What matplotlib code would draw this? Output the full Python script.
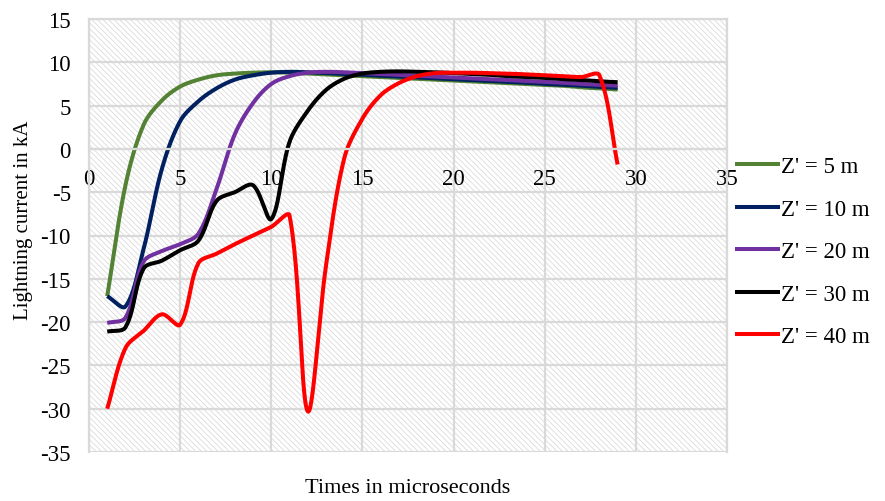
import numpy as np
import matplotlib
matplotlib.use("Agg")
import matplotlib.pyplot as plt
from matplotlib.patches import Rectangle

plt.rcParams['font.family'] = ['Liberation Serif', 'DejaVu Serif']
plt.rcParams['axes.unicode_minus'] = False

# ---- data ----
times = [1, 2, 3, 4, 5, 6, 7, 8, 9, 10, 11, 12, 13, 14, 15, 16, 17, 18, 19, 20,
         21, 22, 23, 24, 25, 26, 27, 28, 29]

z5 = [-17.0, -4.2, 2.8, 5.6, 7.2, 8.0, 8.5, 8.7, 8.8, 8.85, 8.8, 8.7, 8.6, 8.5, 8.4,
      8.3, 8.2, 8.1, 8.0, 7.9, 7.8, 7.7, 7.6, 7.5, 7.4, 7.3, 7.1, 7.0, 6.85]
z10 = [-17.0, -18.2, -11.5, -2.3, 3.2, 5.5, 7.0, 8.0, 8.5, 8.8, 8.9, 8.85, 8.75, 8.65,
       8.55, 8.45, 8.35, 8.25, 8.15, 8.05, 7.95, 7.85, 7.75, 7.65, 7.5, 7.4, 7.3, 7.15, 7.05]
z20 = [-20.1, -19.5, -13.0, -11.8, -11.0, -9.8, -4.6, 1.7, 5.3, 7.5, 8.4, 8.8, 8.9, 8.85,
       8.75, 8.65, 8.55, 8.45, 8.35, 8.25, 8.15, 8.05, 7.95, 7.85, 7.75, 7.65, 7.5, 7.4, 7.3]
z30 = [-21.1, -20.6, -13.8, -12.9, -11.7, -10.6, -6.0, -5.0, -4.2, -8.1, 0.8, 4.4, 6.8,
       8.1, 8.7, 8.9, 8.95, 8.9, 8.85, 8.75, 8.65, 8.55, 8.4, 8.3, 8.2, 8.05, 7.95, 7.8, 7.7]
z40 = [-30.0, -23.0, -21.0, -19.1, -20.3, -13.2, -12.1, -11.0, -10.0, -9.0, -7.7, -30.3,
       -13.5, -1.1, 3.5, 6.2, 7.6, 8.4, 8.75, 8.8, 8.8, 8.75, 8.7, 8.6, 8.5, 8.4, 8.3, 8.5, -1.8]

series = [z5, z10, z20, z30, z40]
labels = ["Z' = 5 m", "Z' = 10 m", "Z' = 20 m", "Z' = 30 m", "Z' = 40 m"]
colors = ['#548235', '#002060', '#7030A0', '#000000', '#FF0000']

xticks = [0, 5, 10, 15, 20, 25, 30, 35]
yticks = [-35, -30, -25, -20, -15, -10, -5, 0, 5, 10, 15]


def smooth(ax, xs, ys, n=30):
    """Spreadsheet-style smoothed line: Bezier segments built in screen space."""
    pts = ax.transData.transform(np.column_stack([xs, ys]))
    m = len(pts)
    out = [pts[:1]]
    t = np.linspace(0, 1, n)[1:, None]
    for i in range(m - 1):
        p0 = pts[i - 1] if i > 0 else pts[i]
        p1, p2 = pts[i], pts[i + 1]
        p3 = pts[i + 2] if i + 2 < m else pts[i + 1]
        d01 = np.hypot(*(p1 - p0))
        d12 = np.hypot(*(p2 - p1))
        d23 = np.hypot(*(p3 - p2))
        f1 = d12 / (d01 + d12) / 3 if d01 + d12 > 0 else 0
        f2 = d12 / (d12 + d23) / 3 if d12 + d23 > 0 else 0
        c1 = p1 + (p2 - p0) * f1
        c2 = p2 - (p3 - p1) * f2
        seg = ((1 - t) ** 3) * p1 + 3 * ((1 - t) ** 2) * t * c1 + 3 * (1 - t) * t ** 2 * c2 + t ** 3 * p2
        out.append(seg)
    disp = np.vstack(out)
    data = ax.transData.inverted().transform(disp)
    return data[:, 0], data[:, 1]


fig = plt.figure(figsize=(8.85, 5.02), dpi=100)
ax = fig.add_axes([89 / 885, 1 - 453 / 502, (727 - 89) / 885, (453 - 20) / 502])

ax.set_xlim(0, 35)
ax.set_ylim(-35, 15)
ax.set_xticks(xticks)
ax.set_yticks(yticks)

grid_col = '#d9d9d9'
plt.rcParams['hatch.linewidth'] = 0.5
bg = Rectangle((0, 0), 1, 1, transform=ax.transAxes, facecolor='white',
               edgecolor='#d4d4d4', linewidth=0, hatch='\\\\\\\\\\\\', zorder=0.1)
ax.add_patch(bg)
ax.set_axisbelow(True)
ax.grid(True, color=grid_col, linewidth=1.6)

for s in ['left', 'right', 'top', 'bottom']:
    ax.spines[s].set_color(grid_col)
    ax.spines[s].set_linewidth(1.6)
ax.spines['bottom'].set_position(('data', 0))

ax.tick_params(axis='x', length=0, pad=14, labelsize=16.5)
ax.tick_params(axis='y', length=0, pad=13, labelsize=16.5)

for ys, lab, c in zip(series, labels, colors):
    sx, sy = smooth(ax, times, ys)
    ax.plot(sx, sy, color=c, linewidth=2.9, label=lab, solid_capstyle='butt')

ax.set_xlabel('Times in microseconds', fontsize=16)
ax.xaxis.label.set_va('center')
ax.xaxis.set_label_coords(0.5, -0.081)
ax.set_ylabel('Lightning current in kA', fontsize=15)
ax.yaxis.label.set_va('center')
ax.yaxis.set_label_coords(-0.1034, 0.538)

leg = ax.legend(loc='upper left', bbox_to_anchor=(735 / 885, 1 - 157 / 502),
                bbox_transform=fig.transFigure, frameon=False, fontsize=16.5,
                handlelength=1.95, handletextpad=0.05, labelspacing=0.94,
                borderpad=0, borderaxespad=0)

fig.savefig('out.png', dpi=100)
